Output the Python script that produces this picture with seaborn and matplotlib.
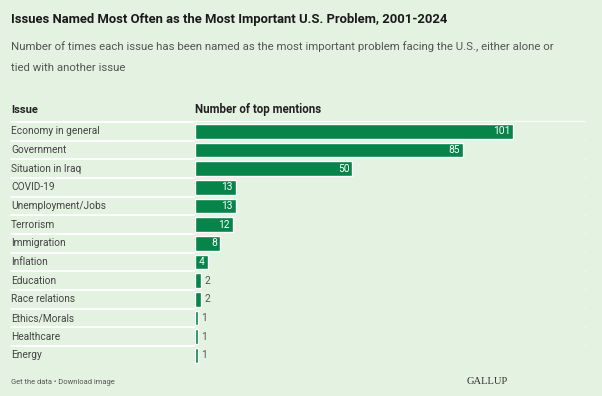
import matplotlib
matplotlib.use("Agg")
import matplotlib.pyplot as plt
import seaborn as sns
import pandas as pd

# Data
issues = ["Economy in general", "Government", "Situation in Iraq", "COVID-19",
          "Unemployment/Jobs", "Terrorism", "Immigration", "Inflation",
          "Education", "Race relations", "Ethics/Morals", "Healthcare", "Energy"]
mentions = [101, 85, 50, 13, 13, 12, 8, 4, 2, 2, 1, 1, 1]

df = pd.DataFrame({"Issue": issues, "Mentions": mentions})

BG = "#e4f2e1"
GREEN = "#07844a"
W, H = 602, 396

sns.set_theme(style="white")
plt.rcParams["font.family"] = ["Roboto", "DejaVu Sans"]

fig = plt.figure(figsize=(W / 100, H / 100), dpi=100)
fig.patch.set_facecolor(BG)

# axes: bar area from x=195 to 585 px, rows from y=122 to 364.7 px
left, right = 195, 585
top, bottom = 122, 364.7
ax = fig.add_axes([left / W, 1 - bottom / H, (right - left) / W, (bottom - top) / H])
ax.set_facecolor(BG)

sns.barplot(data=df, y="Issue", x="Mentions", color=GREEN, saturation=1,
            width=0.78, ax=ax, orient="h")
ax.set_xlim(0, (right - left) / ((513 - 195) / 101))
ax.set_ylim(len(issues) - 0.5, -0.5)
ax.set_xticks([])
ax.set_yticks([])
ax.set_xlabel("")
ax.set_ylabel("")
for s in ax.spines.values():
    s.set_visible(False)

row_h = (bottom - top) / len(issues)

# row separators across full width
for i in range(len(issues)):
    y_fig = 1 - (top + i * row_h) / H
    fig.add_artist(plt.Line2D([11 / W, 585 / W], [y_fig, y_fig], color="white",
                              lw=1.3, zorder=0))

# issue labels
for i, name in enumerate(issues):
    y_fig = 1 - (top + (i + 0.5) * row_h) / H
    fig.text(11 / W, y_fig, name, fontsize=7.3, color="#444444", va="center", ha="left")

# value labels
for i, v in enumerate(mentions):
    if v >= 4:
        ax.text(v - 0.9, i, str(v), color="white", fontsize=7.4, va="center", ha="right")
    else:
        ax.text(v + 0.9, i, str(v), color="#555555", fontsize=7.4, va="center", ha="left")

# headers
fig.text(11 / W, 1 - 110 / H, "Issue", fontsize=8, fontweight="bold",
         color="#222222", va="center")
fig.text(195 / W, 1 - 110 / H, "Number of top mentions", fontsize=8.3,
         fontweight="bold", color="#222222", va="center")

# title / subtitle
fig.text(11 / W, 1 - 20 / H, "Issues Named Most Often as the Most Important U.S. Problem, 2001-2024",
         fontsize=9.4, fontweight="bold", color="#1a1a1a", va="center")
fig.text(11 / W, 1 - 47 / H,
         "Number of times each issue has been named as the most important problem facing the U.S., either alone or",
         fontsize=8.2, color="#555555", va="center")
fig.text(11 / W, 1 - 68 / H, "tied with another issue", fontsize=8.2, color="#555555", va="center")

# footer
fig.text(11 / W, 1 - 383 / H, "Get the data \u2022 Download image", fontsize=5.4,
         color="#555555", va="center")
fig.text(508 / W, 1 - 382 / H, "GALLUP", fontsize=7.6, color="#333333", va="center",
         ha="right", family=["Liberation Serif", "DejaVu Serif"])

fig.savefig("out.png", dpi=100, facecolor=BG)
